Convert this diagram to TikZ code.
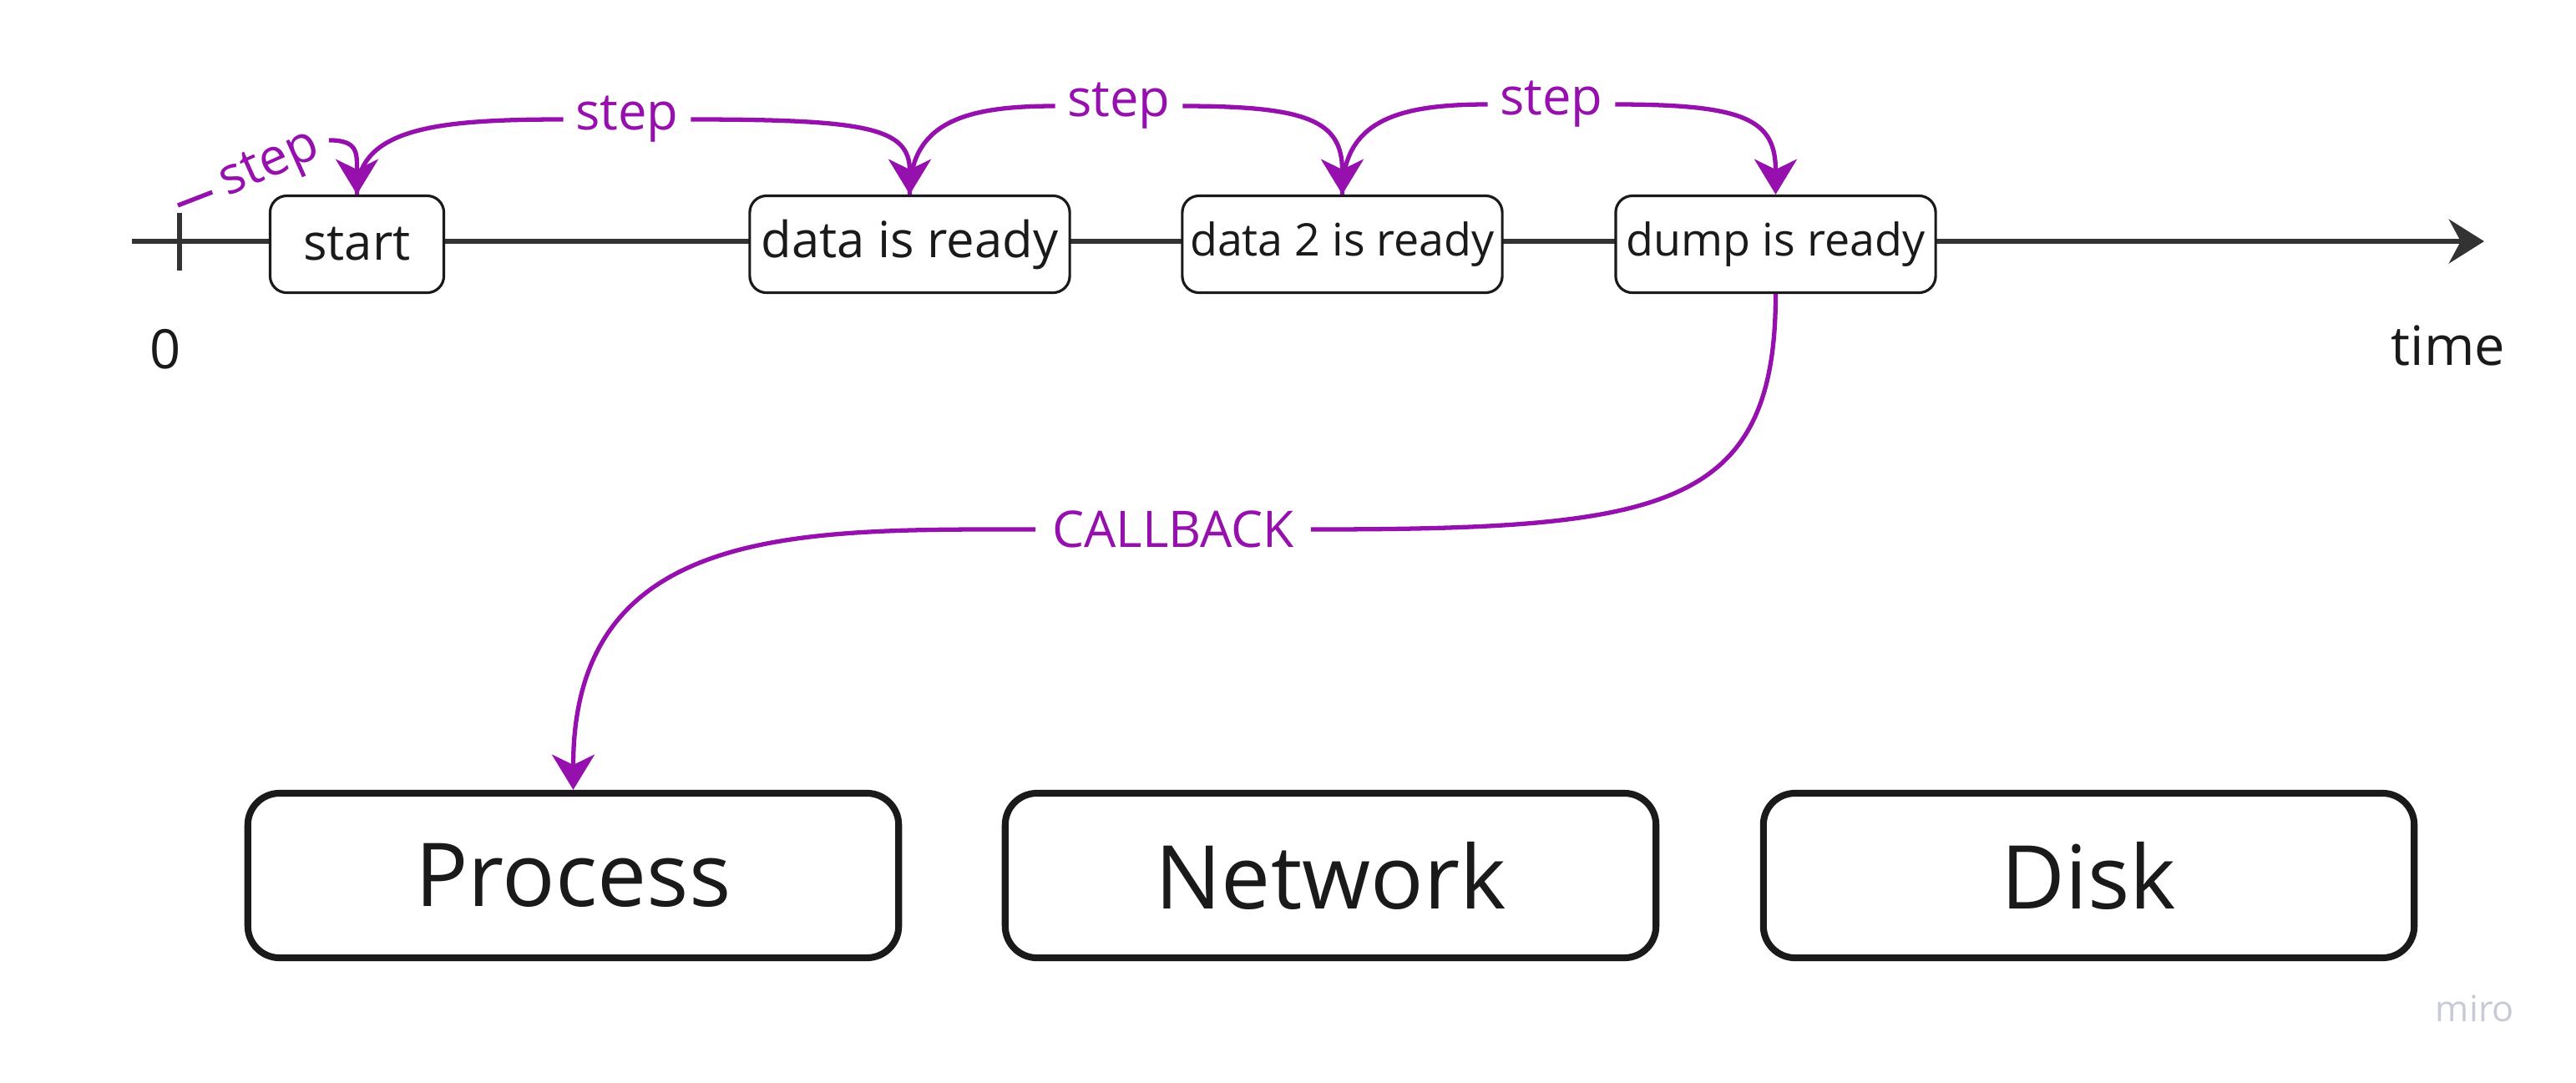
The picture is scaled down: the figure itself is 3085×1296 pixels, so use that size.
\documentclass[tikz,border=0pt]{standalone}
\usepackage{fontspec}
\setmainfont{Open Sans}
\usetikzlibrary{arrows.meta}
\definecolor{stepcol}{RGB}{149,16,172}
\definecolor{inkcol}{RGB}{26,26,26}
\definecolor{axiscol}{RGB}{51,51,51}
\definecolor{logocol}{RGB}{200,202,213}
\tikzstyle{eventnode} = [draw=inkcol, fill=white, rounded corners=0.2cm, line width=0.9pt, minimum width=3.83cm, minimum height=1.16cm, text=inkcol, inner sep=0pt]
\tikzstyle{resnode} = [draw=inkcol, fill=white, rounded corners=0.38cm, line width=2.3pt, minimum width=7.79cm, minimum height=1.97cm, text=inkcol, font=\fontsize{30}{36}\selectfont]
\tikzstyle{steplabel} = [text=stepcol, inner sep=4pt, font=\fontsize{17.5}{21}\selectfont]
\tikzstyle{stepline} = [draw=stepcol, line width=1.5pt]
\tikzstyle{stephead} = [-{Stealth[length=12pt,width=14.5pt,inset=3.5pt]}]
\tikzstyle{axis} = [draw=axiscol, line width=1.7pt]
\tikzstyle{axislabel} = [text=inkcol, font=\fontsize{18.5}{22}\selectfont]

\begin{document}
\begin{tikzpicture}[x=0.01cm, y=-0.01cm]
    \useasboundingbox (0,0) rectangle (3085,1296);

    % time axis
    \coordinate (axis_from) at (158,289);
    \coordinate (axis_to) at (2975,289);
    \coordinate (tick_top) at (215,255);
    \coordinate (tick_bot) at (215,324);
    \draw[axis, -{Stealth[length=12pt,width=15pt,inset=4pt]}] (axis_from) -- (axis_to);
    \draw[axis] (tick_top) -- (tick_bot);
    \node[axislabel] (zero) at (198,418) {0};
    \node[axislabel] (time) at (2932,414) {time};

    % events on the axis
    \node[eventnode, minimum width=2.08cm, font=\fontsize{17}{20}\selectfont] (start) at (427.5,292.5) {start};
    \node[eventnode, font=\fontsize{17}{20}\selectfont] (data) at (1089.5,292.5) {data is ready};
    \node[eventnode, font=\fontsize{15.3}{18}\selectfont] (data_two) at (1607.5,292.5) {data 2 is ready};
    \node[eventnode, font=\fontsize{15.3}{18}\selectfont] (dump) at (2126.5,292.5) {dump is ready};

    % resources
    \node[resnode] (process) at (686.5,1048.5) {Process};
    \node[resnode] (network) at (1593.5,1048.5) {Network};
    \node[resnode] (disk) at (2501.5,1048.5) {Disk};

    % steps
    \node[steplabel, rotate=24] (step_zero) at (324,199) {step};
    \node[steplabel] (step_one) at (751,143) {step};
    \node[steplabel] (step_two) at (1340,127) {step};
    \node[steplabel] (step_three) at (1858,125) {step};
    \coordinate (step_from) at (213,246);

    \draw[stepline] (step_from) -- (step_zero.west);
    \draw[stepline, stephead] (step_zero.east) .. controls +(35,0) and +(0,-50) .. (start.north);
    \draw[stepline] (start.north) .. controls +(0,-80) and +(-150,0) .. (step_one.west);
    \draw[stepline, stephead] (step_one.east) .. controls +(210,0) and +(0,-80) .. (data.north);
    \draw[stepline] (data.north) .. controls +(0,-88) and +(-105,0) .. (step_two.west);
    \draw[stepline, stephead] (step_two.east) .. controls +(150,0) and +(0,-88) .. (data_two.north);
    \draw[stepline] (data_two.north) .. controls +(0,-90) and +(-105,0) .. (step_three.west);
    \draw[stepline, stephead] (step_three.east) .. controls +(155,0) and +(0,-90) .. (dump.north);

    % callback
    \node[steplabel, inner sep=5.5pt, font=\fontsize{17.2}{21}\selectfont] (callback) at (1405,634) {CALLBACK};
    \draw[stepline] (dump.south) .. controls +(0,260) and +(420,0) .. (callback.east);
    \draw[stepline, stephead] (callback.west) .. controls +(-280,0) and +(0,-320) .. (process.north);

    \node[text=logocol, font=\fontsize{12.3}{15}\selectfont] (logo) at (2964,1208) {miro};
\end{tikzpicture}
\end{document}
